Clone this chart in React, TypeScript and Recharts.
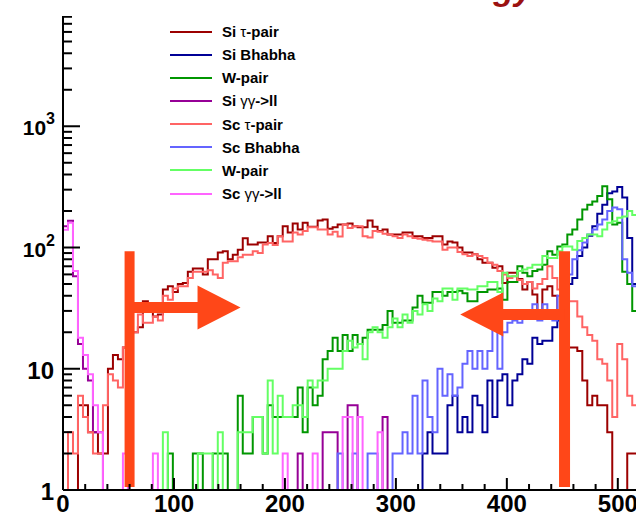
import { LineChart, Line, XAxis, YAxis, ReferenceLine, Legend } from 'recharts';

// Histogram contents per 4.5-unit bin, starting at 0 (empty bins sit on the axis at 1).
const SI_TAU = [
  1, 1, 1, 5, 5, 3, 3, 2, 2, 10,
  13, 12, 15, 18, 20, 22, 36, 30, 27, 28,
  45, 48, 43, 50, 51, 63, 67, 67, 60, 80,
  80, 91, 93, 80, 87, 96, 119, 106, 106, 110,
  110, 124, 109, 124, 150, 133, 158, 141, 160, 148,
  148, 167, 170, 143, 147, 155, 155, 158, 150, 147,
  147, 167, 148, 137, 141, 128, 128, 128, 133, 133,
  124, 124, 120, 120, 124, 124, 106, 112, 110, 100,
  91, 91, 88, 80, 75, 75, 68, 70, 51, 62,
  62, 55, 45, 52, 41, 30, 45, 48, 40, 30,
  20, 15, 15, 14, 8, 5, 6, 5, 5, 3,
  1, 1, 1, 2, 2, 2,
];

const SI_BHABHA = [
  1, 1, 1, 1, 1, 1, 1, 1, 1, 1,
  1, 1, 1, 1, 1, 1, 1, 1, 1, 1,
  1, 1, 1, 1, 1, 1, 1, 1, 1, 1,
  1, 1, 1, 1, 1, 1, 1, 1, 1, 1,
  1, 1, 1, 1, 1, 1, 1, 1, 1, 1,
  1, 1, 1, 1, 1, 1, 1, 1, 1, 1,
  1, 1, 1, 1, 1, 1, 1, 1, 1, 1,
  1, 1, 2, 3, 2, 2, 2, 5, 6, 3,
  4, 3, 6, 5, 3, 8, 4, 8, 9, 5,
  8, 9, 12, 11, 18, 16, 17, 17, 22, 25,
  32, 50, 56, 85, 100, 125, 150, 190, 225, 280,
  290, 316, 258, 120, 50, 40,
];

const SI_WPAIR = [
  1, 1, 1, 1, 1, 1, 1, 1, 1, 1,
  1, 1, 1, 1, 1, 1, 1, 1, 1, 1,
  1, 2, 1, 1, 1, 1, 2, 2, 1, 1,
  2, 2, 2, 1, 1, 6, 2, 2, 4, 4,
  2, 5, 4, 4, 4, 4, 4, 7, 3, 7,
  5, 6, 12, 14, 18, 14, 19, 14, 19, 16,
  18, 21, 21, 21, 23, 30, 24, 24, 25, 25,
  32, 40, 35, 35, 43, 43, 40, 43, 43, 44,
  42, 36, 36, 43, 43, 45, 45, 46, 37, 52,
  52, 70, 62, 58, 64, 66, 72, 93, 87, 102,
  106, 128, 141, 170, 206, 225, 240, 266, 320, 250,
  155, 160, 63, 50, 30, 20,
];

const SI_GG = [
  150, 166, 58, 16, 10, 8, 3, 3, 1, 1,
  1, 1, 1, 1, 1, 1, 1, 1, 1, 1,
  1, 1, 1, 1, 1, 1, 1, 1, 1, 1,
  1, 1, 1, 1, 1, 1, 1, 1, 1, 1,
  1, 1, 1, 1, 1, 1, 1, 2, 1, 1,
  1, 1, 3, 3, 3, 1, 1, 5, 5, 1,
  1, 1, 1, 1, 4, 1, 1, 1, 1, 1,
  1, 1, 1, 1, 1, 1, 1, 1, 1, 1,
  1, 1, 1, 1, 1, 1, 1, 1, 1, 1,
  1, 1, 1, 1, 1, 1, 1, 1, 1, 1,
  1, 1, 1, 1, 1, 1, 1, 1, 1, 1,
  1, 1, 1, 1, 1, 1,
];

const SC_TAU = [
  1, 3, 2, 6, 4, 3, 2, 2, 5, 9,
  8, 7, 15, 18, 20, 28, 24, 24, 27, 25,
  40, 37, 46, 48, 48, 56, 63, 63, 63, 65,
  60, 56, 75, 77, 77, 83, 87, 87, 93, 90,
  106, 109, 105, 124, 112, 112, 133, 128, 137, 147,
  147, 141, 141, 128, 135, 123, 155, 145, 150, 150,
  124, 121, 137, 135, 130, 128, 124, 120, 128, 124,
  120, 118, 116, 114, 112, 112, 96, 100, 100, 92,
  88, 85, 88, 85, 82, 75, 72, 64, 60, 56,
  58, 54, 50, 52, 46, 50, 55, 70, 56, 45,
  40, 36, 36, 27, 22, 19, 17, 12, 11, 8,
  4, 16, 12, 6, 5, 4,
];

const SC_BHABHA = [
  1, 1, 1, 1, 1, 1, 1, 1, 1, 1,
  1, 1, 1, 1, 1, 1, 1, 1, 1, 1,
  1, 1, 1, 1, 1, 1, 1, 1, 1, 1,
  1, 1, 1, 1, 1, 1, 1, 1, 1, 1,
  1, 1, 1, 1, 1, 1, 1, 1, 1, 1,
  1, 1, 1, 1, 1, 2, 1, 1, 2, 1,
  1, 2, 2, 1, 1, 1, 2, 2, 3, 2,
  6, 2, 8, 4, 3, 10, 6, 9, 6, 7,
  11, 14, 10, 14, 10, 14, 21, 10, 20, 24,
  25, 24, 26, 29, 34, 25, 34, 30, 25, 40,
  55, 60, 80, 95, 110, 128, 141, 155, 170, 200,
  214, 207, 80, 62, 48, 40,
];

const SC_WPAIR = [
  1, 1, 1, 1, 1, 1, 1, 1, 1, 1,
  1, 1, 1, 1, 1, 1, 1, 1, 1, 1,
  3, 1, 1, 1, 1, 1, 1, 2, 2, 2,
  1, 3, 1, 1, 1, 3, 3, 3, 4, 4,
  2, 8, 2, 6, 4, 4, 5, 5, 4, 8,
  7, 8, 8, 10, 10, 10, 14, 17, 15, 16,
  12, 20, 22, 20, 18, 22, 26, 22, 28, 24,
  30, 28, 34, 30, 38, 36, 46, 46, 37, 46,
  46, 45, 45, 48, 48, 52, 52, 43, 62, 58,
  58, 64, 66, 68, 72, 72, 85, 82, 82, 93,
  102, 102, 96, 113, 120, 128, 128, 124, 141, 160,
  165, 176, 180, 200, 185, 185,
];

const SC_GG = [
  140, 160, 64, 18, 13, 9, 5, 3, 1, 1,
  1, 1, 2, 1, 1, 1, 1, 1, 2, 1,
  1, 1, 1, 1, 1, 1, 1, 1, 1, 1,
  1, 1, 1, 1, 1, 1, 1, 1, 1, 1,
  1, 1, 1, 1, 2, 1, 1, 1, 1, 1,
  2, 1, 1, 1, 1, 1, 4, 4, 1, 4,
  1, 1, 1, 3, 1, 1, 1, 1, 1, 1,
  1, 1, 1, 1, 1, 1, 1, 1, 1, 1,
  1, 1, 1, 1, 1, 1, 1, 1, 1, 1,
  1, 1, 1, 1, 1, 1, 1, 1, 1, 1,
  1, 1, 1, 1, 1, 1, 1, 1, 1, 1,
  1, 1, 1, 1, 1, 1,
];

const BIN_WIDTH = 4.5;
const X_DOMAIN = [0, 520];
const Y_DOMAIN = [1, 11000];

// x ticks every 20, labelled every 100
const X_TICKS = [
  0, 20, 40, 60, 80, 100, 120, 140, 160, 180, 200, 220, 240, 260,
  280, 300, 320, 340, 360, 380, 400, 420, 440, 460, 480, 500, 520,
];
const Y_TICKS = [
  1, 2, 3, 4, 5, 6, 7, 8, 9,
  10, 20, 30, 40, 50, 60, 70, 80, 90,
  100, 200, 300, 400, 500, 600, 700, 800, 900,
  1000, 2000, 3000, 4000, 5000, 6000, 7000, 8000, 9000, 10000,
];

// selection cuts and where their arrows sit
const CUT_LOW = 60;
const CUT_HIGH = 452;
const CUT_BAR = [1.06, 93];
const ARROW_LOW = { y: 32, tip: 160 };
const ARROW_HIGH = { y: 28, tip: 358 };

const SERIES = [
  { key: 'siTau', label: 'Si τ-pair', color: '#9c0000', values: SI_TAU },
  { key: 'siBhabha', label: 'Si Bhabha', color: '#000096', values: SI_BHABHA },
  { key: 'siW', label: 'W-pair', color: '#009600', values: SI_WPAIR },
  { key: 'siGG', label: 'Si γγ->ll', color: '#960096', values: SI_GG },
  { key: 'scTau', label: 'Sc τ-pair', color: '#ff6464', values: SC_TAU },
  { key: 'scBhabha', label: 'Sc Bhabha', color: '#6464ff', values: SC_BHABHA },
  { key: 'scW', label: 'W-pair', color: '#64ff64', values: SC_WPAIR },
  { key: 'scGG', label: 'Sc γγ->ll', color: '#ff64ff', values: SC_GG },
];

const FONT = '"Liberation Sans", Arial, Helvetica, sans-serif';
const ARROW_COLOR = '#ff4718';

const nBins = SI_TAU.length;
// one row per bin edge; the extra last row closes the final bin
const chartData = Array.from({ length: nBins + 1 }, (_, i) => {
  const row: any = { x: i * BIN_WIDTH };
  SERIES.forEach((s) => {
    row[s.key] = s.values[Math.min(i, nBins - 1)];
  });
  return row;
});

const isDecade = (v: number) => Math.abs(Math.log10(v) - Math.round(Math.log10(v))) < 1e-9;

function BottomTick({ x, y, payload }: any) {
  const v = payload.value;
  const major = v % 100 === 0;
  return (
    <g>
      <line x1={x} x2={x} y1={y} y2={y - (major ? 12 : 6)} stroke="#000" strokeWidth={2} />
      {major && (
        <text x={x} y={y + 22} textAnchor="middle" fontFamily={FONT} fontWeight="bold" fontSize={24} fill="#000">
          {v}
        </text>
      )}
    </g>
  );
}

function TopTick({ x, y, payload }: any) {
  const major = payload.value % 100 === 0;
  return <line x1={x} x2={x} y1={y} y2={y + (major ? 14 : 7)} stroke="#000" strokeWidth={2} />;
}

function LeftTick({ x, y, payload }: any) {
  const v = payload.value;
  const major = isDecade(v);
  const exp = Math.round(Math.log10(v));
  let label = null;
  if (major && v < 100) {
    label = (
      <text x={54} y={y + 10} textAnchor="end" fontFamily={FONT} fontWeight="bold" fontSize={24} fill="#000">
        {v}
      </text>
    );
  } else if (major && v < 10000) {
    label = (
      <text x={55} y={y + 9} textAnchor="end" fontFamily={FONT} fontWeight="bold" fontSize={21} fill="#000">
        <tspan>10</tspan>
        <tspan dy={-11} fontSize={16}>{exp}</tspan>
      </text>
    );
  }
  return (
    <g>
      <line x1={x} x2={x + (major ? 17 : 9)} y1={y} y2={y} stroke="#000" strokeWidth={2} />
      {label}
    </g>
  );
}

function RightTick({ x, y, payload }: any) {
  const major = isDecade(payload.value);
  return <line x1={x} x2={x - (major ? 18 : 9)} y1={y} y2={y} stroke="#000" strokeWidth={2} />;
}

// thick arrow from the cut line towards the accepted region
function ArrowShape({ x1, y1, x2 }: any) {
  const dir = Math.sign(x2 - x1);
  const headLen = 43;
  const half = 22;
  const shaft = 5.5;
  const hx = x2 - dir * headLen;
  const pts = [
    [x1, y1 - shaft], [hx, y1 - shaft], [hx, y1 - half], [x2, y1],
    [hx, y1 + half], [hx, y1 + shaft], [x1, y1 + shaft],
  ];
  return <polygon points={pts.map((p) => p.join(',')).join(' ')} fill={ARROW_COLOR} />;
}

function withGreek(label: string) {
  return label.split(/([τγ]+)/).map((part, i) =>
    /[τγ]/.test(part) ? (
      <span key={i} style={{ fontWeight: 'normal' }}>{part}</span>
    ) : (
      <span key={i}>{part}</span>
    )
  );
}

const renderLegend = () => (
  <div style={{ fontFamily: FONT, fontWeight: 'bold', fontSize: 15, color: '#000' }}>
    {SERIES.map((s) => (
      <div key={s.key} style={{ display: 'flex', alignItems: 'center', height: 23.15 }}>
        <div style={{ width: 42, height: 2, background: s.color, marginRight: 10 }} />
        <span style={{ whiteSpace: 'nowrap' }}>{withGreek(s.label)}</span>
      </div>
    ))}
  </div>
);

export default function App() {
  return (
    <div style={{ position: 'absolute', left: 0, top: 0, width: 636, height: 513, overflow: 'hidden', background: '#fff' }}>
      <LineChart width={642} height={513} data={chartData} margin={{ top: 0, right: 2, bottom: 0, left: 0 }}>
        <XAxis
          dataKey="x"
          type="number"
          domain={X_DOMAIN}
          ticks={X_TICKS}
          interval={0}
          allowDataOverflow
          height={23}
          tickSize={0}
          tickMargin={0}
          tickLine={false}
          tick={BottomTick}
          axisLine={{ stroke: '#000', strokeWidth: 2 }}
        />
        <XAxis
          xAxisId="top"
          orientation="top"
          type="number"
          domain={X_DOMAIN}
          ticks={X_TICKS}
          interval={0}
          allowDataOverflow
          height={0}
          tickSize={0}
          tickMargin={0}
          tickLine={false}
          tick={TopTick}
          axisLine={{ stroke: '#000', strokeWidth: 2 }}
        />
        <YAxis
          type="number"
          scale="log"
          domain={Y_DOMAIN}
          ticks={Y_TICKS}
          interval={0}
          allowDataOverflow
          width={63}
          tickSize={0}
          tickMargin={0}
          tickLine={false}
          tick={LeftTick}
          axisLine={{ stroke: '#000', strokeWidth: 2 }}
        />
        <YAxis
          yAxisId="right"
          orientation="right"
          type="number"
          scale="log"
          domain={Y_DOMAIN}
          ticks={Y_TICKS}
          interval={0}
          allowDataOverflow
          width={0}
          tickSize={0}
          tickMargin={0}
          tickLine={false}
          tick={RightTick}
          axisLine={{ stroke: '#000', strokeWidth: 2 }}
        />
        {SERIES.map((s) => (
          <Line
            key={s.key}
            dataKey={s.key}
            name={s.label}
            type="stepAfter"
            stroke={s.color}
            strokeWidth={2}
            dot={false}
            activeDot={false}
            isAnimationActive={false}
          />
        ))}
        <ReferenceLine
          segment={[{ x: CUT_LOW, y: CUT_BAR[0] }, { x: CUT_LOW, y: CUT_BAR[1] }]}
          stroke={ARROW_COLOR}
          strokeWidth={10}
        />
        <ReferenceLine
          segment={[{ x: CUT_HIGH, y: CUT_BAR[0] }, { x: CUT_HIGH, y: CUT_BAR[1] }]}
          stroke={ARROW_COLOR}
          strokeWidth={11}
        />
        <ReferenceLine
          segment={[{ x: CUT_LOW, y: ARROW_LOW.y }, { x: ARROW_LOW.tip, y: ARROW_LOW.y }]}
          shape={ArrowShape}
        />
        <ReferenceLine
          segment={[{ x: CUT_HIGH, y: ARROW_HIGH.y }, { x: ARROW_HIGH.tip, y: ARROW_HIGH.y }]}
          shape={ArrowShape}
        />
        <Legend
          layout="vertical"
          align="center"
          verticalAlign="middle"
          content={renderLegend}
          wrapperStyle={{ top: 20, left: 170, width: 220, height: 186 }}
        />
      </LineChart>
      {/* title pad, only the bottom of its text is inside the frame */}
      <svg width={560} height={16} style={{ position: 'absolute', left: 0, top: 0 }}>
        <rect x={0} y={0} width={560} height={16} fill="#fff" />
        <text x={533} y={0} textAnchor="end" fontFamily={FONT} fontWeight="bold" fontStyle="italic" fontSize={34} fill="#9b1111">
          Energy
        </text>
      </svg>
    </div>
  );
}
